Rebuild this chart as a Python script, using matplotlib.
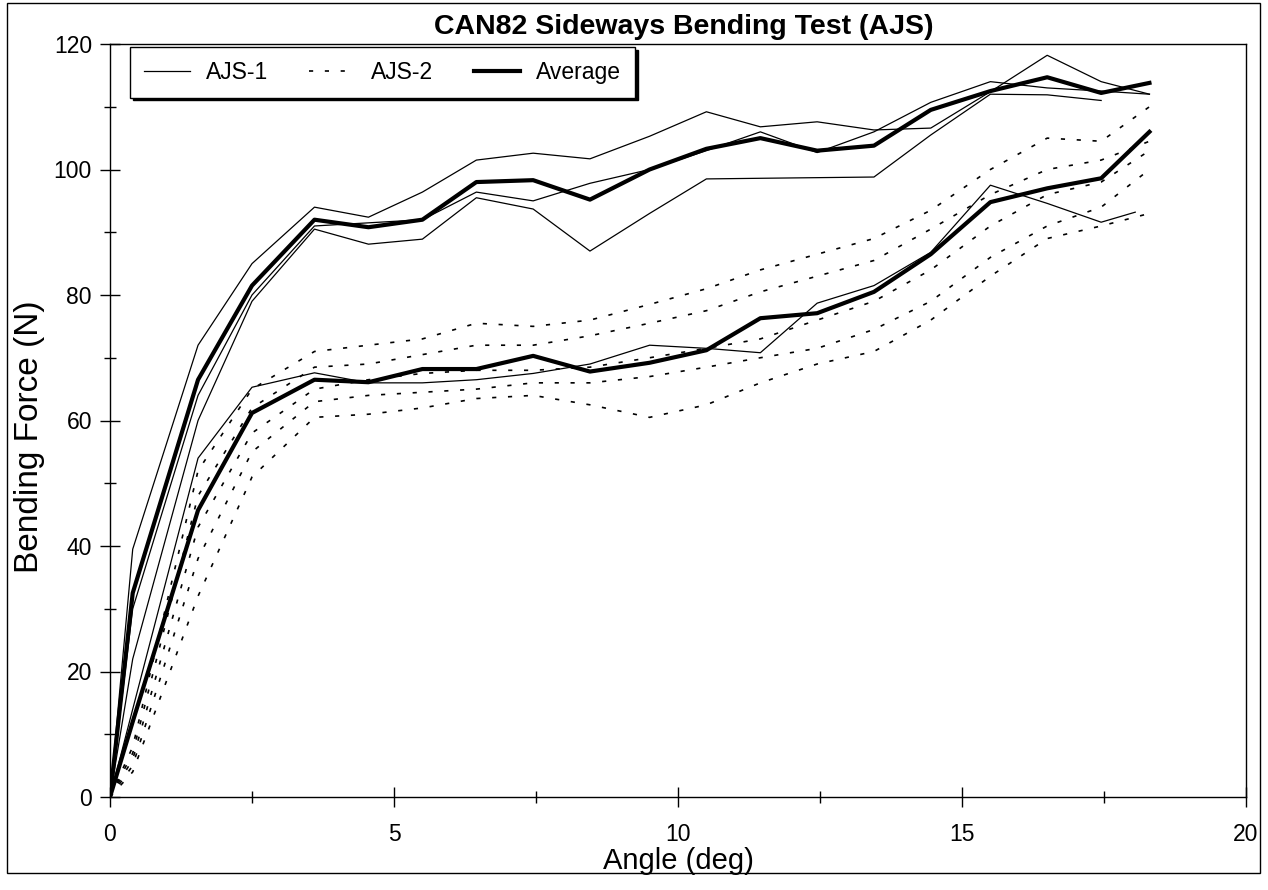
import matplotlib
matplotlib.use("Agg")
import matplotlib.pyplot as plt
import numpy as np
from matplotlib.patches import Rectangle

plt.rcParams["font.family"] = ["Liberation Sans", "DejaVu Sans"]

# angle sample points (deg)
angle = [0, 0.4, 1.55, 2.5, 3.6, 4.55, 5.5, 6.45, 7.45, 8.45, 9.5,
         10.5, 11.45, 12.45, 13.45, 14.45, 15.5, 16.5, 17.45, 18.3]

# AJS-1 specimens, upper group (N)
ajs1_a = [0, 39.5, 72, 85, 94, 92.4, 96.4, 101.5, 102.6, 101.7, 105.3,
          109.2, 106.8, 107.6, 106.3, 106.6, 112.4, 118.2, 114, 112]
ajs1_b = [0, 30, 64, 80, 91, 91.5, 92, 96.4, 95, 97.8, 100,
          103, 106, 102.7, 106, 110.7, 114, 113, 112.5, 112]
ajs1_c = [0, 22, 60, 79, 90.5, 88.1, 88.9, 95.5, 93.7, 87, 93,
          98.5, 98.6, 98.7, 98.8, 105.5, 112, 111.9, 111, np.nan]
avg_upper = [0, 32.5, 66.5, 81.5, 92, 90.8, 92, 98, 98.3, 95.2, 100,
             103.3, 105, 103, 103.8, 109.5, 112.5, 114.7, 112.2, 113.8]

# lower group
angle_l = angle[:-1] + [18.05]
ajs1_l = [0, 14, 54, 65.3, 67.6, 66, 66, 66.5, 67.5, 69, 72,
          71.5, 70.8, 78.7, 81.5, 86.8, 97.5, 94.6, 91.6, 93.2]

# AJS-2 specimens (N)
ajs2_1 = [0, 8, 52, 65, 71, 72, 73, 75.5, 75, 76, 78.5,
          81, 84, 86.5, 89, 93.5, 100, 105, 104.5, 110]
ajs2_2 = [0, 7, 48, 62, 68.5, 69, 70.5, 72, 72, 73.5, 75.5,
          77.5, 80.5, 83, 85.5, 90.5, 96, 100, 101.5, 104.5]
ajs2_3 = [0, 6, 43, 58, 65, 66.5, 67.5, 68, 68, 68.5, 70,
          71.5, 73, 76, 79, 84, 91, 96, 98, 103]
ajs2_4 = [0, 5, 38, 55, 63, 64, 64.5, 65, 66, 66, 67,
          68.5, 70, 71.5, 74.5, 79, 86, 91, 94, 100]
ajs2_5 = [0, 4, 32, 51, 60.5, 61, 62, 63.5, 64, 62.5, 60.5,
          62.5, 66, 69, 71, 76, 83, 89, 91, 93]
avg_lower = [0, 12, 45.7, 61.2, 66.5, 66.1, 68.2, 68.2, 70.3, 67.8, 69.2,
             71.2, 76.3, 77.1, 80.5, 86.5, 94.8, 97, 98.6, 106]

W, H = 1268, 890
fig = plt.figure(figsize=(W / 100, H / 100), dpi=100)
ax = fig.add_axes([110 / W, 1 - 797 / H, (1246 - 110) / W, (797 - 44) / H])

thin = dict(color="black", lw=0.9)
dots = dict(color="black", lw=1.2, linestyle=(0, (2.5, 7)))
thick = dict(color="black", lw=3.0)

for ys in [ajs1_a, ajs1_b, ajs1_c]:
    ax.plot(angle, ys, **thin)
ax.plot(angle_l, ajs1_l, **thin)
for ys in [ajs2_1, ajs2_2, ajs2_3, ajs2_4, ajs2_5]:
    ax.plot(angle, ys, **dots)
ax.plot(angle, avg_upper, **thick)
ax.plot(angle, avg_lower, **thick)

ax.set_xlim(0, 20)
ax.set_ylim(0, 120)
ax.set_xticks(np.arange(0, 21, 5))
ax.set_xticks(np.arange(0, 20.1, 2.5), minor=True)
ax.set_yticks(np.arange(0, 121, 20))
ax.set_yticks(np.arange(0, 121, 10), minor=True)
ax.tick_params(which="both", direction="inout", width=1.0, labelsize=16.5)
ax.tick_params(which="major", length=14, pad=6)
ax.tick_params(which="minor", length=9)
ax.tick_params(axis="x", pad=12)
for s in ax.spines.values():
    s.set_linewidth(1.0)

ax.set_xlabel("Angle (deg)", fontsize=21)
ax.set_ylabel("Bending Force (N)", fontsize=24)
ax.xaxis.set_label_coords(0.5, -0.066)
ax.yaxis.set_label_coords(-0.057, 0.479)
fig.text(684 / W, 1 - 27 / H, "CAN82 Sideways Bending Test (AJS)",
         fontsize=20.5, fontweight="bold", ha="center", va="center")

handles = [plt.Line2D([], [], **thin), plt.Line2D([], [], **dots),
           plt.Line2D([], [], **thick)]
leg = ax.legend(handles, ["AJS-1", "AJS-2", "Average"], ncol=3,
                loc="upper left", bbox_to_anchor=(20 / (1246 - 110), 0.996),
                borderaxespad=0, fontsize=16.5, frameon=True, fancybox=False,
                shadow={"color": "black", "alpha": 1}, edgecolor="black",
                framealpha=1, handlelength=2.0, columnspacing=1.8,
                borderpad=0.6, handletextpad=0.7)
leg.get_frame().set_linewidth(1.0)

# page frame around the figure
fig.patches.append(Rectangle((7 / W, 1 - 873 / H), (1260 - 7) / W, (873 - 3) / H,
                             transform=fig.transFigure, fill=False,
                             edgecolor="black", lw=1.0))

fig.savefig("out.png", dpi=100)
